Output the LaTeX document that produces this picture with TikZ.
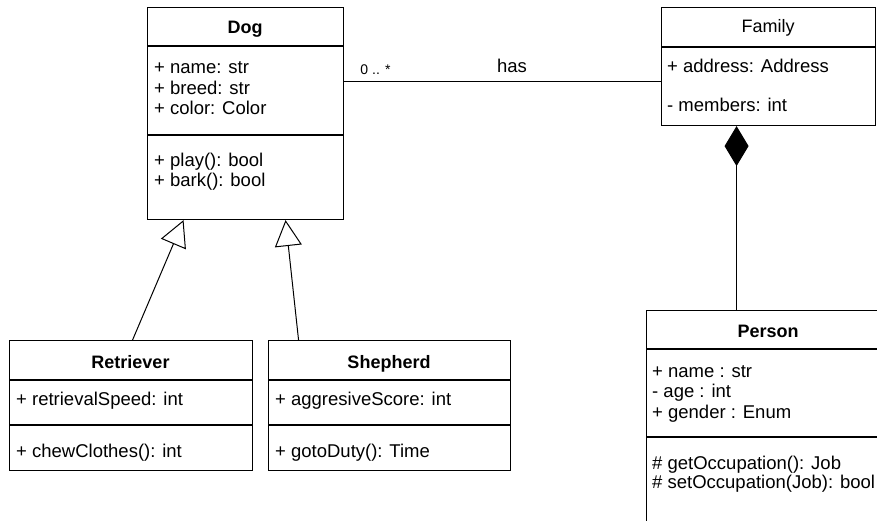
\documentclass[tikz,border=0pt]{standalone}
\usepackage{fontspec}
\setmainfont{Liberation Sans}
\usetikzlibrary{arrows.meta,positioning,calc}

\tikzset{
	umlbox/.style={draw,line width=1.1pt,anchor=north west,inner sep=0pt},
	umlname/.style={font=\fontsize{18}{20}\selectfont\bfseries,anchor=base,inner sep=0pt},
	umltext/.style={font=\fontsize{18.5}{20.5}\selectfont,anchor=base west,align=left,inner sep=0pt},
	inherit/.style={-{Triangle[open,length=26pt,width=27pt,fill=white]},line width=1pt},
	compose/.style={-{Diamond[length=40pt,width=24pt]},line width=1pt},
}

\begin{document}
\begin{tikzpicture}[x=1pt,y=-1pt]
	\useasboundingbox (0,0) rectangle (877,521);
	\clip (0,0) rectangle (877,521);
	\fill[white] (0,0) rectangle (877,521);

	\node[umlbox,minimum width=196pt,minimum height=212pt] (dog) at (147,7) {};
	\draw[line width=1.1pt] ($(dog.north west)+(0,39)$) -- ($(dog.north east)+(0,39)$);
	\draw[line width=1.1pt] ($(dog.north west)+(0,128)$) -- ($(dog.north east)+(0,128)$);
	\node[umlname] (dogname) at (245,34) {Dog};
	\node[umltext] (dogattr) at (154,115) {+ name: str\\+ breed: str\\+ color: Color};
	\node[umltext] (dogops) at (154,187) {+ play(): bool\\+ bark(): bool};

	\node[umlbox,minimum width=214pt,minimum height=118pt] (family) at (661,7) {};
	\draw[line width=1.1pt] ($(family.north west)+(0,40)$) -- ($(family.north east)+(0,40)$);
	\node[umlname,font=\fontsize{18}{20}\selectfont] (familyname) at (768,33) {Family};
	\node[umltext,font=\fontsize{18.5}{39}\selectfont] (familyattr) at (667,112) {+ address: Address\\- members: int};

	\node[umlbox,minimum width=243pt,minimum height=130pt] (retriever) at (9,340) {};
	\draw[line width=1.1pt] ($(retriever.north west)+(0,40)$) -- ($(retriever.north east)+(0,40)$);
	\draw[line width=1.1pt] ($(retriever.north west)+(0,85)$) -- ($(retriever.north east)+(0,85)$);
	\node[umlname] (retrievername) at (130.5,368) {Retriever};
	\node[umltext] (retrieverattr) at (16,405) {+ retrievalSpeed: int};
	\node[umltext] (retrieverops) at (16,457) {+ chewClothes(): int};

	\node[umlbox,minimum width=242pt,minimum height=130pt] (shepherd) at (268,340) {};
	\draw[line width=1.1pt] ($(shepherd.north west)+(0,40)$) -- ($(shepherd.north east)+(0,40)$);
	\draw[line width=1.1pt] ($(shepherd.north west)+(0,85)$) -- ($(shepherd.north east)+(0,85)$);
	\node[umlname] (shepherdname) at (389,368) {Shepherd};
	\node[umltext] (shepherdattr) at (275,405) {+ aggresiveScore: int};
	\node[umltext] (shepherdops) at (275,457) {+ gotoDuty(): Time};

	\node[umlbox,minimum width=244pt,minimum height=240pt] (person) at (646,310) {};
	\draw[line width=1.1pt] ($(person.north west)+(0,39)$) -- ($(person.north east)+(0,39)$);
	\draw[line width=1.1pt] ($(person.north west)+(0,127)$) -- ($(person.north east)+(0,127)$);
	\node[umlname] (personname) at (768,337) {Person};
	\node[umltext] (personattr) at (652,418) {+ name : str\\- age : int\\+ gender : Enum};
	\node[umltext,font=\fontsize{18.5}{19}\selectfont] (personops) at (652,488) {\# getOccupation(): Job\\\# setOccupation(Job): bool};

	% associations
	\draw[line width=1pt] ($(dog.north east)+(0,75)$) -- ($(family.north west)+(0,75)$)
		node[pos=0.05,anchor=base west,inner sep=0pt,yshift=7pt,font=\fontsize{14}{16}\selectfont] (mult) {0 .. *}
		node[pos=0.53,anchor=base,inner sep=0pt,yshift=9pt,font=\fontsize{18.5}{20}\selectfont] (haslabel) {has};
	\draw[compose] ([xshift=-32pt]family.south |- person.north) -- ([xshift=-32pt]family.south);
	\draw[inherit] ([xshift=1.5pt]retriever.north) -- ([xshift=-62pt]dog.south);
	\draw[inherit] ([xshift=-91pt]shepherd.north) -- ([xshift=40pt]dog.south);
\end{tikzpicture}
\end{document}
